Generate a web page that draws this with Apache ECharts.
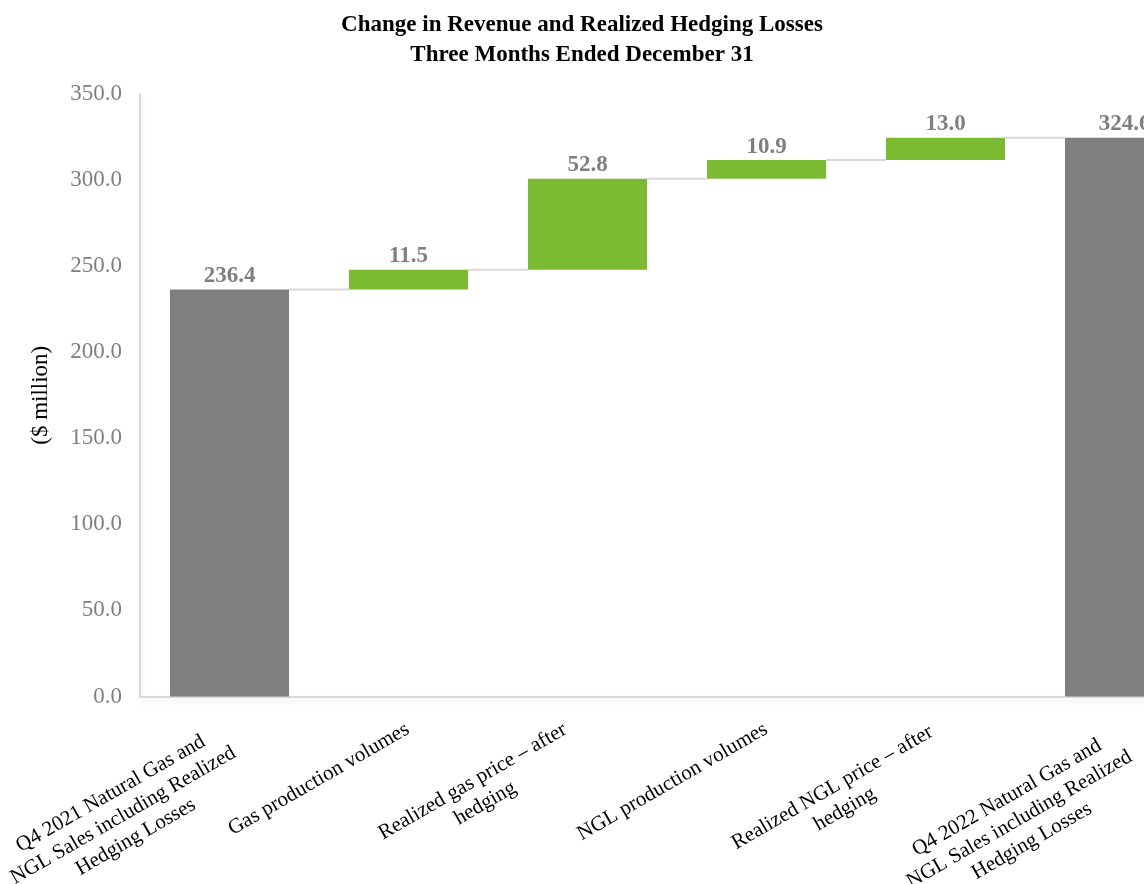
<!DOCTYPE html>
<html>
<head>
<meta charset="utf-8">
<script src="https://cdn.jsdelivr.net/npm/echarts@6/dist/echarts.min.js"></script>
<style>
  html, body { margin: 0; padding: 0; background: #fff; }
  #chart { width: 1144px; height: 884px; }
</style>
</head>
<body>
<div id="chart"></div>
<script>
// ---- Data ----
const titleLines = ['Change in Revenue and Realized Hedging Losses', 'Three Months Ended December 31'];
const categories = [
  ['Q4 2021 Natural Gas and', 'NGL Sales including Realized', 'Hedging Losses'],
  ['Gas production volumes'],
  ['Realized gas price \u2013 after', 'hedging'],
  ['NGL production volumes'],
  ['Realized NGL price \u2013 after', 'hedging'],
  ['Q4 2022 Natural Gas and', 'NGL Sales including Realized', 'Hedging Losses']
];
const barValues = [236.4, 11.5, 52.8, 10.9, 13.0, 324.6];
const isTotal = [true, false, false, false, false, true];
const yTicks = { min: 0, max: 350, interval: 50 };
const yAxisName = '($ million)';

// ---- Styling ----
const FONT = '"Liberation Serif", "Times New Roman", serif';
const GREEN = '#7bbb32';
const GREY = '#7f7f7f';
const BAR_RATIO = 0.665;
const CAT_FONT = 21;
// per-label shift (text frame): [down*2, back]
const labelShift = [[46, 7], [0, 0], [4, 19], [0, 0], [16, 13], [54, 8]];

// waterfall bases computed from the values
const bases = [];
let running = 0;
barValues.forEach((v, i) => {
  if (isTotal[i]) { bases.push(0); running = v; }
  else { bases.push(running); running += v; }
});
const levels = barValues.map((v, i) => bases[i] + v);
const connectors = [];
for (let i = 0; i < levels.length - 1; i++) connectors.push([i, levels[i]]);

// measure text to centre the lines of each category label
const ctx = document.createElement('canvas').getContext('2d');
ctx.font = CAT_FONT + 'px ' + FONT;
const rich = {};
const xData = categories.map((lines, i) => {
  const w = Math.ceil(Math.max(...lines.map(l => ctx.measureText(l).width))) + 1;
  rich['c' + i] = { width: w, align: 'center', fontSize: CAT_FONT, fontFamily: FONT, color: '#000', lineHeight: 25 };
  return {
    value: lines.join(' '),
    textStyle: { padding: [labelShift[i][0], labelShift[i][1], 0, 0] }
  };
});

const chart = echarts.init(document.getElementById('chart'), null, { renderer: 'canvas' });
chart.setOption({
  animation: false,
  backgroundColor: '#fff',
  title: {
    text: titleLines.join('\n'),
    left: 582,
    textAlign: 'center',
    top: 10,
    padding: 0,
    textStyle: { fontFamily: FONT, fontSize: 23, fontWeight: 'bold', color: '#000', lineHeight: 30 }
  },
  grid: { left: 140, right: -70, top: 94, bottom: 187.5, containLabel: false, outerBoundsMode: 'none' },
  xAxis: {
    type: 'category',
    data: xData,
    boundaryGap: true,
    axisTick: { show: false },
    axisLine: { lineStyle: { color: '#d9d9d9', width: 2, shadowColor: 'rgba(0,0,0,0.12)', shadowBlur: 6, shadowOffsetY: 3 } },
    axisLabel: {
      interval: 0,
      rotate: 30,
      margin: 31,
      fontSize: CAT_FONT,
      fontFamily: FONT,
      color: '#000',
      rich: rich,
      formatter: (val, idx) => categories[idx].map(l => '{c' + idx + '|' + l + '}').join('\n')
    }
  },
  yAxis: {
    type: 'value',
    min: yTicks.min, max: yTicks.max, interval: yTicks.interval,
    name: yAxisName,
    nameLocation: 'middle',
    nameGap: 88,
    nameRotate: 90,
    nameTextStyle: { fontFamily: FONT, fontSize: 23, color: '#000' },
    axisLine: { show: true, lineStyle: { color: '#d9d9d9', width: 2, shadowColor: 'rgba(0,0,0,0.08)', shadowBlur: 4, shadowOffsetX: 1 } },
    axisTick: { show: false },
    splitLine: { show: false },
    axisLabel: {
      margin: 18,
      fontFamily: FONT, fontSize: 23, color: GREY,
      formatter: v => v.toFixed(1)
    }
  },
  series: [
    {
      type: 'bar', stack: 'wf', data: bases, barWidth: (BAR_RATIO * 100) + '%',
      itemStyle: { color: 'transparent' }, silent: true, z: 1
    },
    {
      type: 'bar', stack: 'wf', barWidth: (BAR_RATIO * 100) + '%',
      data: barValues.map((v, i) => ({ value: v, itemStyle: { color: isTotal[i] ? GREY : GREEN } })),
      label: {
        show: true, position: 'top', distance: 2,
        fontFamily: FONT, fontSize: 23, fontWeight: 'bold', color: GREY,
        formatter: p => Number(p.value).toFixed(1)
      },
      z: 2
    },
    {
      type: 'custom',
      data: connectors,
      silent: true,
      z: 1,
      renderItem: (params, api) => {
        const p = api.coord([api.value(0), api.value(1)]);
        const band = api.size([1, 0])[0];
        const bw = band * BAR_RATIO;
        return {
          type: 'line',
          shape: { x1: p[0] + bw / 2, y1: p[1], x2: p[0] + band - bw / 2, y2: p[1] },
          style: { stroke: '#d9d9d9', lineWidth: 2 }
        };
      }
    }
  ]
});
</script>
</body>
</html>
